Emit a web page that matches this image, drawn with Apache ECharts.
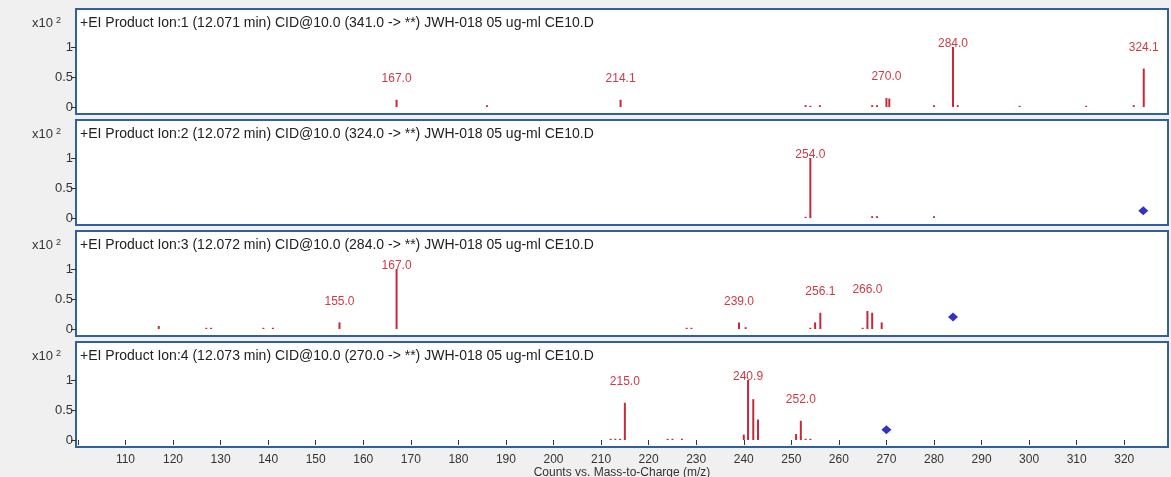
<!DOCTYPE html>
<html>
<head>
<meta charset="utf-8">
<title>Product Ion spectra JWH-018</title>
<script src="https://cdn.jsdelivr.net/npm/echarts@6/dist/echarts.min.js"></script>
<style>
  html, body { margin: 0; padding: 0; background: #f0f0f0; }
  #chart { width: 1171px; height: 477px; }
</style>
</head>
<body>
<div id="chart"></div>
<script>
// m/z axis
const mzTicks = [100, 110, 120, 130, 140, 150, 160, 170, 180, 190, 200, 210, 220, 230, 240, 250, 260, 270, 280, 290, 300, 310, 320];
const mzLabels = mzTicks.slice(1);
const yTicks = [0, 0.5, 1];

// panel titles
const titles = [
  "+EI Product Ion:1 (12.071 min) CID@10.0 (341.0 -> **) JWH-018 05 ug-ml CE10.D",
  "+EI Product Ion:2 (12.072 min) CID@10.0 (324.0 -> **) JWH-018 05 ug-ml CE10.D",
  "+EI Product Ion:3 (12.072 min) CID@10.0 (284.0 -> **) JWH-018 05 ug-ml CE10.D",
  "+EI Product Ion:4 (12.073 min) CID@10.0 (270.0 -> **) JWH-018 05 ug-ml CE10.D"
];

// spectrum 1 (precursor 341)
const ion1Mz = [167.0, 186.0, 214.1, 253.0, 254.0, 256.0, 267.0, 268.0, 270.0, 270.6, 280.0, 284.0, 285.0, 298.0, 312.0, 322.0, 324.1];
const ion1Int = [0.12, 0.03, 0.12, 0.03, 0.02, 0.03, 0.03, 0.03, 0.15, 0.14, 0.03, 1.0, 0.03, 0.02, 0.02, 0.03, 0.64];
const ion1Labels = ["167.0", "214.1", "270.0", "284.0", "324.1"];

// spectrum 2 (precursor 324)
const ion2Mz = [253.0, 254.0, 267.0, 268.0, 280.0];
const ion2Int = [0.02, 1.0, 0.03, 0.03, 0.03];
const ion2Labels = ["254.0"];

// spectrum 3 (precursor 284)
const ion3Mz = [117.0, 127.0, 128.0, 139.0, 141.0, 155.0, 167.0, 228.0, 229.0, 239.0, 240.4, 254.0, 255.0, 256.1, 265.0, 266.0, 267.0, 269.0];
const ion3Int = [0.05, 0.02, 0.02, 0.02, 0.02, 0.11, 1.0, 0.02, 0.02, 0.11, 0.03, 0.02, 0.11, 0.27, 0.02, 0.3, 0.27, 0.11];
const ion3Labels = ["155.0", "167.0", "239.0", "256.1", "266.0"];

// spectrum 4 (precursor 270)
const ion4Mz = [212.0, 213.0, 214.0, 215.0, 224.0, 225.0, 227.0, 240.0, 240.9, 242.0, 243.0, 251.0, 252.0, 253.0, 254.0];
const ion4Int = [0.02, 0.02, 0.02, 0.62, 0.02, 0.02, 0.02, 0.09, 1.0, 0.68, 0.34, 0.1, 0.32, 0.02, 0.02];
const ion4Labels = ["215.0", "240.9", "252.0"];

// precursor markers (blue diamonds), none for panel 1
const precursorMz = [null, 324.0, 284.0, 270.0];
const precursorInt = [null, 0.12, 0.2, 0.17];

const spectra = [
  { mz: ion1Mz, y: ion1Int, labels: ion1Labels },
  { mz: ion2Mz, y: ion2Int, labels: ion2Labels },
  { mz: ion3Mz, y: ion3Int, labels: ion3Labels },
  { mz: ion4Mz, y: ion4Int, labels: ion4Labels }
];

// layout
const FONT = "Liberation Sans, Arial, sans-serif";
const PANEL_TOP = 9, PANEL_PITCH = 111, PANEL_H = 105;
const X_MIN = 99.6, X_MAX = 329.2;
const Y_MIN = -0.117, Y_MAX = 1.633;

// peak labels sit ~22px above the peak, but never closer than 34px to the panel top
function labelDistance(v) {
  const pxPerUnit = PANEL_H / (Y_MAX - Y_MIN);
  const peakTop = (Y_MAX - v) * pxPerUnit;
  const center = Math.max(34, peakTop - 22);
  return peakTop - center - 7;
}

const myChart = echarts.init(document.getElementById("chart"));

const grid = [], xAxis = [], yAxis = [], series = [], title = [];

spectra.forEach((s, i) => {
  const top = PANEL_TOP + i * PANEL_PITCH;
  const last = i === spectra.length - 1;
  grid.push({
    left: 76, right: 3, top: top, height: PANEL_H,
    outerBoundsMode: "none",
    show: true, backgroundColor: "#fff",
    borderColor: "#31609e", borderWidth: 2
  });
  xAxis.push({
    type: "value", gridIndex: i, min: X_MIN, max: X_MAX,
    show: last,
    splitLine: { show: false },
    axisLine: { show: false },
    axisTick: { show: true, customValues: mzTicks, length: 5, lineStyle: { color: "#333" } },
    axisLabel: { customValues: mzLabels, color: "#333", fontSize: 12, fontFamily: FONT, margin: 7 },
    name: last ? "Counts vs. Mass-to-Charge (m/z)" : "",
    nameLocation: "middle", nameGap: 20,
    nameTextStyle: { color: "#333", fontSize: 12, fontFamily: FONT }
  });
  yAxis.push({
    type: "value", gridIndex: i, min: Y_MIN, max: Y_MAX,
    splitLine: { show: false },
    axisLine: { show: false },
    axisTick: { show: true, customValues: yTicks, length: 5, lineStyle: { color: "#333" } },
    axisLabel: { customValues: yTicks, color: "#333", fontSize: 13, fontFamily: FONT, margin: 3 }
  });
  series.push({
    type: "bar", xAxisIndex: i, yAxisIndex: i,
    barWidth: 2, silent: true, animation: false,
    itemStyle: { color: "#c42a38" },
    label: { color: "#cf3a46", fontSize: 12, fontFamily: FONT },
    data: s.mz.map((m, k) => {
      const txt = m.toFixed(1);
      const show = s.labels.indexOf(txt) >= 0;
      return {
        value: [m, s.y[k]],
        label: show
          ? { show: true, position: "top", distance: labelDistance(s.y[k]), formatter: txt }
          : { show: false }
      };
    })
  });
  if (precursorMz[i] !== null) {
    series.push({
      type: "scatter", xAxisIndex: i, yAxisIndex: i,
      symbol: "diamond", symbolSize: [10, 9], silent: true, animation: false,
      itemStyle: { color: "#0000b0" },
      data: [[precursorMz[i], precursorInt[i]]]
    });
  }
  title.push({
    text: titles[i], left: 80, top: top + 7, padding: 0,
    textStyle: { fontSize: 14, fontWeight: "normal", color: "#222", fontFamily: FONT }
  });
  title.push({
    text: "{a|x10}{b|2}", left: 32, top: top + 7, padding: 0,
    textStyle: {
      fontFamily: FONT, fontWeight: "normal",
      rich: {
        a: { fontSize: 13, color: "#333", fontFamily: FONT, fontWeight: "normal" },
        b: { fontSize: 9, color: "#333", fontFamily: FONT, fontWeight: "normal", padding: [0, 0, 6, 3] }
      }
    }
  });
});

myChart.setOption({
  backgroundColor: "#f0f0f0",
  animation: false,
  title: title,
  grid: grid,
  xAxis: xAxis,
  yAxis: yAxis,
  series: series
});
</script>
</body>
</html>
